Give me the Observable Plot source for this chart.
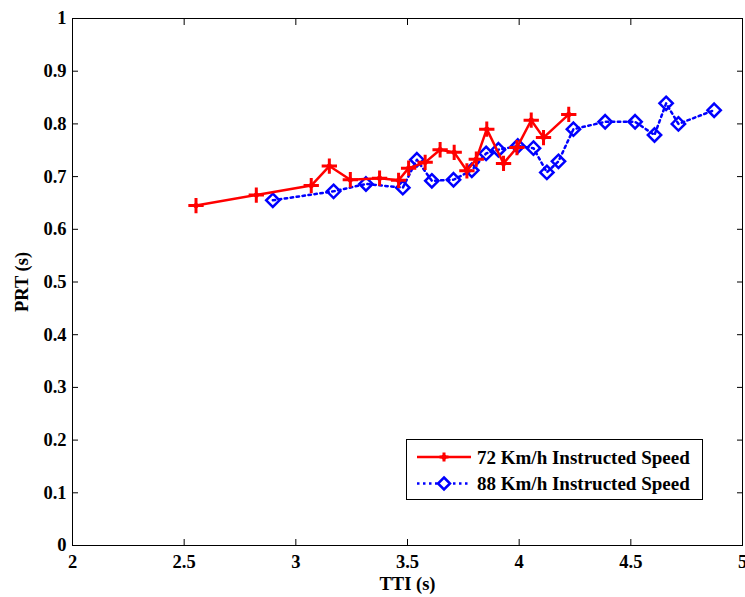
<!DOCTYPE html>
<html><head><meta charset="utf-8">
<script src="https://cdn.jsdelivr.net/npm/d3@7"></script>
<script src="https://cdn.jsdelivr.net/npm/@observablehq/plot@0.6"></script>
<style>
body{margin:0;background:#fff}
#wrap{position:relative;width:745px;height:597px;font-family:"Times New Roman","Liberation Serif",serif;font-weight:bold}
#legend{position:absolute;left:406px;top:439px}
</style>
</head><body><div id="wrap"></div>
<script>
const seriesNames = ["72 Km/h Instructed Speed", "88 Km/h Instructed Speed"];
const tti72 = [2.553, 2.823, 3.069, 3.150, 3.244, 3.375, 3.460, 3.505, 3.579, 3.646, 3.709, 3.766, 3.808, 3.855, 3.930, 3.990, 4.054, 4.109, 4.222];
const prt72 = [0.645, 0.665, 0.683, 0.720, 0.694, 0.697, 0.693, 0.716, 0.727, 0.751, 0.746, 0.711, 0.733, 0.790, 0.725, 0.755, 0.807, 0.774, 0.818];
const tti88 = [2.897, 3.169, 3.314, 3.479, 3.542, 3.609, 3.706, 3.788, 3.852, 3.907, 3.994, 4.064, 4.124, 4.176, 4.243, 4.385, 4.519, 4.606, 4.658, 4.713, 4.873];
const prt88 = [0.655, 0.672, 0.686, 0.679, 0.732, 0.692, 0.694, 0.712, 0.744, 0.751, 0.758, 0.754, 0.708, 0.729, 0.790, 0.804, 0.804, 0.779, 0.839, 0.800, 0.826];
const xTicks = [2, 2.5, 3, 3.5, 4, 4.5, 5];
const yTicks = [0, 0.1, 0.2, 0.3, 0.4, 0.5, 0.6, 0.7, 0.8, 0.9, 1];
const xLabel = "TTI (s)";
const yLabel = "PRT (s)";

const d72 = tti72.map((x, i) => ({x, y: prt72[i]}));
const d88 = tti88.map((x, i) => ({x, y: prt88[i]}));

const red = "#ff0000", blue = "#0000ff";
const serif = '"Times New Roman", "Liberation Serif", serif';

const chart = Plot.plot({
  width: 745, height: 597,
  marginLeft: 72, marginTop: 18, marginRight: 3, marginBottom: 52,
  style: {fontFamily: serif, fontWeight: "bold", fontSize: "18.5px", background: "#fff", color: "#000"},
  x: {domain: [2, 5]},
  y: {domain: [0, 1]},
  marks: [
    Plot.axisX(xTicks, {anchor: "bottom", tickSize: 0, tickPadding: 9, tickFormat: d => String(d), label: xLabel, labelAnchor: "center", labelArrow: "none", labelOffset: 44}),
    Plot.axisX(xTicks, {anchor: "bottom", tickSize: -6, tickFormat: () => "", label: null}),
    Plot.axisX(xTicks, {anchor: "top", tickSize: -6, tickFormat: () => "", label: null}),
    Plot.axisY(yTicks, {anchor: "left", tickSize: 0, tickPadding: 6, tickFormat: d => String(d), label: yLabel, labelAnchor: "center", labelArrow: "none", labelOffset: 58}),
    Plot.axisY(yTicks, {anchor: "left", tickSize: -6, tickFormat: () => "", label: null}),
    Plot.axisY(yTicks, {anchor: "right", tickSize: -6, tickFormat: () => "", label: null}),
    Plot.frame({stroke: "#000", strokeWidth: 1}),
    Plot.line(d88, {x: "x", y: "y", stroke: blue, strokeWidth: 2.5, strokeDasharray: "2.5,3.5"}),
    Plot.dot(d88, {x: "x", y: "y", symbol: "diamond2", r: 6, stroke: blue, strokeWidth: 2.5, fill: "none"}),
    Plot.line(d72, {x: "x", y: "y", stroke: red, strokeWidth: 2.5}),
    Plot.dot(d72, {x: "x", y: "y", symbol: "plus", r: 5, stroke: red, strokeWidth: 3}),
    Plot.dot(d72, {x: "x", y: "y", r: 2.6, fill: red})
  ]
});
const wrap = document.getElementById("wrap");
wrap.appendChild(chart);

// Legend
const lw = 297, lh = 61;
const leg = d3.create("svg").attr("id", "legend").attr("width", lw).attr("height", lh)
  .attr("font-family", serif).attr("font-weight", "bold").attr("font-size", "19px");
leg.append("rect").attr("x", 0.5).attr("y", 0.5).attr("width", lw - 1).attr("height", lh - 1).attr("fill", "#fff").attr("stroke", "#000");
const rows = [
  {name: seriesNames[0], color: red, dash: null, y: 18},
  {name: seriesNames[1], color: blue, dash: "2.5,3.5", y: 44.5}
];
rows.forEach((r, i) => {
  leg.append("line").attr("x1", 11).attr("x2", 65).attr("y1", r.y).attr("y2", r.y)
    .attr("stroke", r.color).attr("stroke-width", 2.5).attr("stroke-dasharray", r.dash);
  if (i === 0) {
    leg.append("path").attr("d", "M33.5,18h9M38,13.5v9").attr("stroke", red).attr("stroke-width", 3);
    leg.append("circle").attr("cx", 38).attr("cy", 18).attr("r", 2.6).attr("fill", red);
  } else {
    leg.append("path").attr("d", `M38,${r.y - 6}L44,${r.y}L38,${r.y + 6}L32,${r.y}Z`).attr("stroke", blue).attr("stroke-width", 2.5).attr("fill", "#fff");
  }
  leg.append("text").attr("x", 71).attr("y", r.y).attr("dy", "0.35em").text(r.name);
});
wrap.appendChild(leg.node());
</script>
</body></html>
